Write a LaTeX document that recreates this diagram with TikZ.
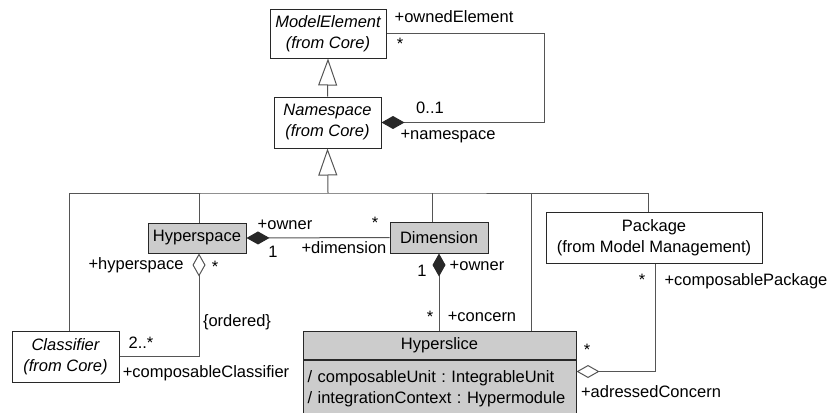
\documentclass[tikz,border=0pt]{standalone}
\usepackage{fontspec}
\setmainfont{Liberation Sans}
\frenchspacing
\usetikzlibrary{arrows.meta, positioning, calc}
\definecolor{boxgray}{RGB}{204,204,204}
\definecolor{linegray}{RGB}{85,85,85}
\definecolor{darkgray}{RGB}{40,40,40}
\tikzset{
  umlfont/.style={font=\fontsize{8.25}{10.5}\selectfont},
  cls/.style={rectangle, draw=darkgray, line width=0.5pt, fill=white,
              align=center, inner sep=1pt, umlfont},
  abstractcls/.style={cls, font=\fontsize{8.25}{10.5}\selectfont\itshape},
  concern/.style={cls, fill=boxgray},
  line/.style={draw=linegray, line width=0.5pt},
  gen/.style={line, -{Triangle[open, length=13.5pt, width=9.5pt]}},
  comp/.style={line, -{Diamond[length=11.5pt, width=6.5pt, color=darkgray]}},
  agg/.style={line, -{Diamond[open, length=11.5pt, width=6.5pt]}},
  lbl/.style={inner sep=0pt, umlfont},
}

\begin{document}
\begin{tikzpicture}[x=0.5pt, y=-0.5pt]
  \useasboundingbox (0,0) rectangle (833,412);

  % Core classes
  \node[abstractcls, minimum width=58pt, minimum height=24.5pt] (modelelement)
    at (328,33.5) {ModelElement\\(from Core)};
  \node[abstractcls, minimum width=53.5pt, minimum height=25.5pt] (namespace)
    at (327.5,122.5) {Namespace\\(from Core)};
  \node[abstractcls, minimum width=53.5pt, minimum height=25.5pt] (classifier)
    at (65.5,356.5) {Classifier\\(from Core)};
  \node[cls, minimum width=108pt, minimum height=25.5pt] (package)
    at (654,237.5) {Package\\(from Model Management)};

  % Hyperspace classes
  \node[concern, minimum width=49pt, minimum height=15pt] (hyperspace)
    at (197,238) {Hyperspace};
  \node[concern, minimum width=49pt, minimum height=15.5pt] (dimension)
    at (439,237.5) {Dimension};
  \node[concern, minimum width=136.5pt, minimum height=14pt] (hyperslice)
    at (439.5,345) {Hyperslice};
  \node[concern, below=0pt of hyperslice, minimum width=136.5pt,
        minimum height=29pt, text width=132pt, align=left, anchor=north,
        inner ysep=2.5pt] (slicebody)
    {/ composableUnit : IntegrableUnit\\
     / integrationContext : Hypermodule\\[8pt]};

  % Generalizations
  \coordinate (bus) at (328,193);
  \coordinate (classtop) at ($(classifier.north)+(3.5,0)$);
  \coordinate (spacetop) at ($(hyperspace.north)+(2,0)$);
  \coordinate (dimtop) at ($(dimension.north)+(-7,0)$);
  \coordinate (slicetop) at ($(hyperslice.north)+(91.5,0)$);
  \coordinate (packtop) at ($(package.north)+(-6,0)$);
  \draw[gen] (namespace.north) -- (modelelement.south);
  \draw[gen] (bus) -- (namespace.south);
  \draw[line] (classtop) |- (bus) -| (packtop);
  \draw[line] (spacetop) -- (spacetop |- bus);
  \draw[line] (dimtop) -- (dimtop |- bus);
  \draw[line] (slicetop) -- (slicetop |- bus);

  % Associations
  \draw[comp] (modelelement.east) -- ++(158,0) |- (namespace.east);
  \draw[comp] (dimension.west) -- (hyperspace.east);
  \draw[comp] (hyperslice.north -| dimension.south) -- (dimension.south);
  \draw[agg] (classifier.east) -| (spacetop |- hyperspace.south);
  \draw[agg] ($(package.south)+(1,0)$) |- ($(slicebody.north east)+(0,12)$);

  % Role names and multiplicities
  \node[lbl] (ownedrole) at (454,17) {+ownedElement};
  \node[lbl] (ownedmult) at (400,44) {*};
  \node[lbl] (nsmult) at (430,108) {0..1};
  \node[lbl] (nsrole) at (448,136) {+namespace};
  \node[lbl] (ownerrole) at (285,225) {+owner};
  \node[lbl] (dimmult) at (375,223) {*};
  \node[lbl] (ownermult) at (273,252) {1};
  \node[lbl] (dimrole) at (344,248) {+dimension};
  \node[lbl] (spacerole) at (136,265) {+hyperspace};
  \node[lbl] (spacemult) at (215,267) {*};
  \node[lbl] (ordered) at (237,322) {\{ordered\}};
  \node[lbl] (classmult) at (141,343) {2..*};
  \node[lbl] (classrole) at (206,373) {+composableClassifier};
  \node[lbl] (dimownmult) at (422,271) {1};
  \node[lbl] (dimownrole) at (477,266) {+owner};
  \node[lbl] (concernmult) at (430,317) {*};
  \node[lbl] (concernrole) at (482,317) {+concern};
  \node[lbl] (packmult) at (642,280) {*};
  \node[lbl] (packrole) at (746,281) {+composablePackage};
  \node[lbl] (addrmult) at (587,350) {*};
  \node[lbl] (addrrole) at (651,392) {+adressedConcern};
\end{tikzpicture}
\end{document}
